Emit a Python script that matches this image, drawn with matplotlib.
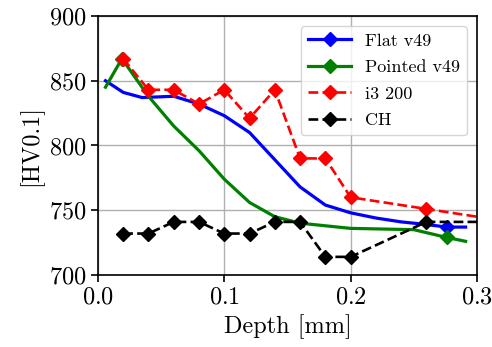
import matplotlib
matplotlib.use("Agg")
import matplotlib.pyplot as plt

plt.rcParams['font.family'] = 'serif'
plt.rcParams['font.serif'] = ['cmr10']
plt.rcParams['mathtext.fontset'] = 'cm'
plt.rcParams['axes.formatter.use_mathtext'] = True

flat_x = [0.006, 0.02, 0.035, 0.06, 0.08, 0.10, 0.12, 0.14, 0.16, 0.18, 0.20, 0.22, 0.24, 0.26, 0.276, 0.291]
flat_y = [850, 841, 837, 838, 832, 823, 810, 789, 768, 754, 748, 744, 741, 739, 737, 737]

pointed_x = [0.006, 0.019, 0.04, 0.06, 0.08, 0.10, 0.12, 0.14, 0.16, 0.20, 0.25, 0.276, 0.291]
pointed_y = [845, 867, 838, 815, 796, 774, 756, 745, 740, 736, 735, 729, 726]

i3_x = [0.02, 0.04, 0.06, 0.08, 0.10, 0.12, 0.14, 0.16, 0.18, 0.20, 0.26, 0.34]
i3_y = [867, 843, 843, 832, 843, 821, 843, 790, 790, 760, 751, 739]

ch_x = [0.02, 0.04, 0.06, 0.08, 0.10, 0.12, 0.14, 0.16, 0.18, 0.20, 0.26, 0.34]
ch_y = [732, 732, 741, 741, 732, 732, 741, 741, 714, 714, 741, 741]

fig = plt.figure(figsize=(4.92, 3.47), dpi=100)
ax = fig.add_axes([0.199, 0.2075, 0.7705, 0.7465])

ax.plot(flat_x, flat_y, color='blue', lw=2.3, marker='D', ms=7, markevery=[14], label='Flat v49')
ax.plot(pointed_x, pointed_y, color='green', lw=2.3, marker='D', ms=7, markevery=[1, 11], label='Pointed v49')
ax.plot(i3_x, i3_y, color='red', lw=1.9, ls='--', marker='D', ms=7, label='i3 200')
ax.plot(ch_x, ch_y, color='black', lw=1.9, ls='--', marker='D', ms=7, label='CH')

ax.set_xlim(0, 0.3)
ax.set_ylim(700, 900)
ax.set_xticks([0.0, 0.1, 0.2, 0.3])
ax.set_yticks([700, 750, 800, 850, 900])
ax.grid(True, color='#b0b0b0', lw=1.0)
ax.tick_params(labelsize=17.5, length=5, width=1.2)
for s in ax.spines.values():
    s.set_linewidth(1.2)
ax.set_xlabel('Depth [mm]', fontsize=17.5)
ax.set_ylabel('[HV0.1]', fontsize=17.5)
ax.legend(loc='upper right', fontsize=13, handlelength=2.4, labelspacing=0.6,
          handletextpad=0.75, borderaxespad=0.55)

fig.savefig('out.png', dpi=100)
